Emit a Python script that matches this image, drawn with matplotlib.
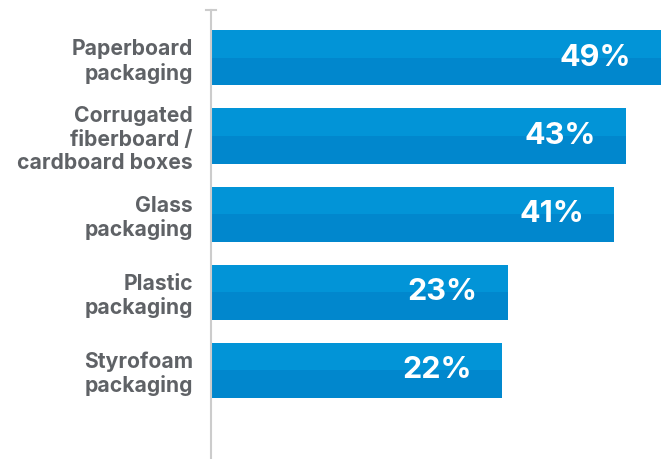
import matplotlib
matplotlib.use("Agg")
import matplotlib.pyplot as plt
from matplotlib.lines import Line2D

categories = ["Paperboard\npackaging", "Corrugated\nfiberboard /\ncardboard boxes",
              "Glass\npackaging", "Plastic\npackaging", "Styrofoam\npackaging"]
values = [49, 43, 41, 23, 22]
value_labels = ["49%", "43%", "41%", "23%", "22%"]

W, H = 665, 459
fig = plt.figure(figsize=(W / 100, H / 100), dpi=100)
ax = fig.add_axes([211 / W, 0, 1 - 211 / W, (H - 10) / H])

xmin, xmax = -27.3, 49.68
bar_h = 0.705
top_col = "#0294D7"
bot_col = "#0187CD"
ypos = list(range(len(values)))

for y, v, lab in zip(ypos, values, value_labels):
    ax.barh(y, v - xmin, left=xmin, height=bar_h, color=bot_col, linewidth=0)
    ax.barh(y - bar_h / 4, v - xmin, left=xmin, height=bar_h / 2, color=top_col, linewidth=0)
    ax.annotate(lab, xy=(v, y), xytext=(-30, 0), textcoords="offset pixels",
                ha="right", va="center", color="white", fontsize=22,
                fontweight="bold", family=["Inter", "DejaVu Sans"])

ax.set_xlim(xmin, xmax)
ax.set_ylim(5.14, -0.615)
ax.set_yticks(ypos)
ax.set_yticklabels(categories, fontsize=15.2, fontweight="bold", color="#5F6266",
                   family=["Inter", "DejaVu Sans"], linespacing=1.2)
ax.tick_params(axis="y", length=0, pad=13)
ax.set_xticks([])
for s in ["top", "right", "bottom"]:
    ax.spines[s].set_visible(False)
ax.spines["left"].set_color("#CCCCCC")
ax.spines["left"].set_linewidth(1.5)
ax.patch.set_alpha(0)

# small end cap at top of the axis
fig.add_artist(Line2D([206 / W, 216 / W], [(H - 10) / H] * 2, color="#CCCCCC",
                      linewidth=1.5, transform=fig.transFigure))

fig.savefig("out.png", dpi=100)
